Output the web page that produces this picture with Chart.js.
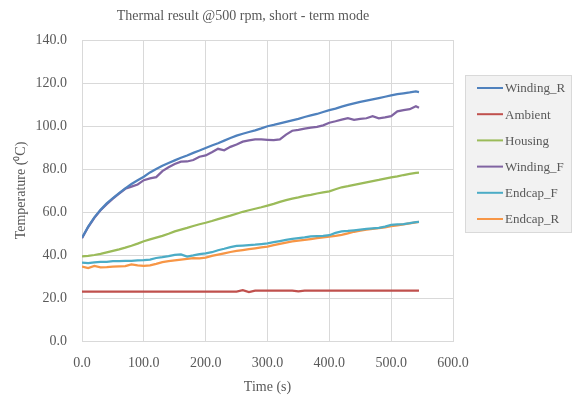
<!DOCTYPE html>
<html lang="en">
<head>
  <meta charset="UTF-8">
  <title>Thermal result @500 rpm, short - term mode</title>
  <script src="https://cdn.jsdelivr.net/npm/chart.js"></script>
  <style>
    body { margin: 0; padding: 0; background: #fff; }
    #wrap { width: 572px; height: 396px; }
  </style>
</head>
<body>
  <div id="wrap"><canvas id="myChart" width="572" height="396"></canvas></div>

  <script>
    const chartTitle = 'Thermal result @500 rpm, short - term mode';
    const seriesNames = ['Winding_R', 'Ambient', 'Housing', 'Winding_F', 'Endcap_F', 'Endcap_R'];
    const seriesColors = ['#4F81BD', '#C0504D', '#9BBB59', '#8064A2', '#4BACC6', '#F79646'];

    const time = [0, 10, 20, 30, 40, 50, 60, 70, 80, 90, 100, 110, 120, 130, 140, 150, 160, 170, 180, 190,
      200, 210, 220, 230, 240, 250, 260, 270, 280, 290, 300, 310, 320, 330, 340, 350, 360, 370, 380, 390,
      400, 410, 420, 430, 440, 450, 460, 470, 480, 490, 500, 510, 520, 530, 540, 545];

    const windingR = [48.0, 53.2, 57.5, 61.0, 64.0, 66.5, 68.8, 71.0, 73.0, 74.8, 76.4, 78.4, 80.0, 81.5, 82.8, 84.0, 85.2, 86.3, 87.5, 88.6,
      89.8, 90.9, 92.0, 93.2, 94.4, 95.5, 96.4, 97.2, 98.0, 98.9, 99.9, 100.5, 101.2, 101.9, 102.6, 103.3, 104.2, 104.9, 105.6, 106.5,
      107.4, 108.1, 109.0, 109.8, 110.5, 111.2, 111.8, 112.4, 113.0, 113.6, 114.2, 114.8, 115.2, 115.6, 116.1, 115.8];

    const ambient = [23.0, 23.0, 23.0, 23.0, 23.0, 23.0, 23.0, 23.0, 23.0, 23.0, 23.0, 23.0, 23.0, 23.0, 23.0, 23.0, 23.0, 23.0, 23.0, 23.0,
      23.0, 23.0, 23.0, 23.0, 23.0, 23.0, 23.6, 22.8, 23.4, 23.4, 23.4, 23.4, 23.4, 23.4, 23.4, 23.1, 23.4, 23.4, 23.4, 23.4,
      23.4, 23.4, 23.4, 23.4, 23.4, 23.4, 23.4, 23.4, 23.4, 23.4, 23.4, 23.4, 23.4, 23.4, 23.4, 23.4];

    const housing = [39.4, 39.6, 40.0, 40.5, 41.2, 41.9, 42.6, 43.4, 44.3, 45.3, 46.4, 47.3, 48.1, 48.9, 49.9, 51.0, 51.8, 52.6, 53.5, 54.3,
      55.0, 55.8, 56.7, 57.5, 58.3, 59.2, 60.1, 60.8, 61.5, 62.2, 63.0, 63.8, 64.7, 65.5, 66.2, 66.8, 67.5, 68.0, 68.6, 69.1,
      69.6, 70.6, 71.5, 72.0, 72.6, 73.2, 73.8, 74.4, 74.9, 75.5, 76.1, 76.6, 77.2, 77.7, 78.2, 78.3];

    const windingF = [47.8, 53.0, 57.3, 60.8, 63.6, 66.2, 68.5, 70.8, 71.8, 72.8, 74.8, 75.6, 76.2, 79.0, 80.8, 82.3, 83.4, 83.5, 84.2, 85.7,
      86.3, 87.8, 89.4, 88.7, 90.3, 91.4, 92.7, 93.3, 93.8, 93.8, 93.6, 93.4, 93.8, 96.0, 97.8, 98.2, 98.8, 99.2, 99.6, 100.3,
      101.5, 102.2, 103.0, 103.7, 102.9, 103.3, 103.6, 104.6, 103.6, 104.0, 104.6, 106.8, 107.4, 107.8, 109.2, 108.5];

    const endcapF = [36.4, 36.2, 36.6, 36.8, 36.8, 37.1, 37.2, 37.3, 37.3, 37.5, 37.6, 37.9, 38.6, 39.0, 39.5, 40.1, 40.3, 39.3, 39.8, 40.4,
      40.8, 41.3, 42.2, 42.9, 43.7, 44.2, 44.4, 44.6, 44.8, 45.1, 45.4, 46.0, 46.5, 47.0, 47.5, 47.9, 48.2, 48.7, 48.8, 48.9,
      49.2, 50.3, 51.0, 51.2, 51.5, 51.8, 52.1, 52.4, 52.6, 53.2, 54.0, 54.2, 54.4, 54.8, 55.3, 55.4];

    const endcapR = [34.6, 33.9, 34.9, 34.3, 34.4, 34.6, 34.7, 34.8, 35.6, 35.2, 34.9, 35.2, 35.9, 36.7, 37.1, 37.5, 37.9, 38.2, 38.5, 38.4,
      38.8, 39.6, 40.2, 40.8, 41.4, 41.9, 42.3, 42.7, 43.1, 43.5, 43.9, 44.6, 45.2, 45.8, 46.3, 46.7, 47.0, 47.4, 47.8, 48.2,
      48.5, 48.9, 49.4, 50.1, 50.8, 51.3, 51.8, 52.1, 52.5, 52.9, 53.4, 53.8, 54.2, 54.7, 55.2, 55.4];

    const seriesValues = [windingR, ambient, housing, windingF, endcapF, endcapR];

    const textColor = '#595959';
    const gridColor = '#d9d9d9';
    const serif = "'Liberation Serif', 'Times New Roman', serif";

    // title and framed legend drawn by hand, Excel style
    const excelDecor = {
      id: 'excelDecor',
      afterDraw(chart) {
        const ctx = chart.ctx;
        ctx.save();
        ctx.fillStyle = textColor;
        ctx.font = '14px ' + serif;
        ctx.textAlign = 'center';
        ctx.textBaseline = 'middle';
        ctx.fillText(chartTitle, 243, 16);

        const bx = 465.5, by = 75.5, bw = 106, bh = 157;
        ctx.fillStyle = '#f2f2f2';
        ctx.fillRect(bx, by, bw, bh);
        ctx.strokeStyle = gridColor;
        ctx.lineWidth = 1;
        ctx.strokeRect(bx, by, bw, bh);

        ctx.font = '13px ' + serif;
        ctx.textAlign = 'left';
        chart.data.datasets.forEach((ds, i) => {
          const y = 88 + i * 26.2;
          ctx.strokeStyle = ds.borderColor;
          ctx.lineWidth = 2;
          ctx.beginPath();
          ctx.moveTo(477, y);
          ctx.lineTo(503, y);
          ctx.stroke();
          ctx.fillStyle = textColor;
          ctx.fillText(ds.label, 505, y + 1);
        });
        ctx.restore();
      }
    };

    const ctx = document.getElementById('myChart').getContext('2d');
    new Chart(ctx, {
      type: 'line',
      data: {
        datasets: seriesNames.map((name, i) => ({
          label: name,
          data: time.map((t, k) => ({ x: t, y: seriesValues[i][k] })),
          borderColor: seriesColors[i],
          backgroundColor: seriesColors[i],
          borderWidth: 2.25,
          pointRadius: 0,
          tension: 0,
          fill: false
        }))
      },
      options: {
        responsive: false,
        animation: false,
        layout: { padding: { top: 40, right: 119, bottom: 0, left: 0 } },
        plugins: {
          legend: { display: false },
          title: { display: false },
          tooltip: { enabled: false }
        },
        scales: {
          x: {
            type: 'linear',
            min: 0, max: 600,
            afterFit: s => { s.height = 55; },
            ticks: {
              stepSize: 100, padding: 14,
              color: textColor, font: { family: serif, size: 14 },
              callback: v => v.toFixed(1)
            },
            grid: { color: gridColor, drawTicks: false },
            border: { color: gridColor },
            title: { display: true, text: 'Time (s)', color: textColor, font: { family: serif, size: 14 }, padding: { top: 2, bottom: 0 } }
          },
          y: {
            min: 0, max: 140,
            afterFit: s => { s.width = 82; },
            ticks: {
              stepSize: 20, padding: 15,
              color: textColor, font: { family: serif, size: 14 },
              callback: v => v.toFixed(1)
            },
            grid: { color: gridColor, drawTicks: false },
            border: { color: gridColor, width: 1 },
            title: { display: true, text: 'Temperature (⁰C)', color: textColor, font: { family: serif, size: 14 }, padding: { top: 13, bottom: 0 } }
          }
        }
      },
      plugins: [excelDecor]
    });
  </script>
</body>
</html>
